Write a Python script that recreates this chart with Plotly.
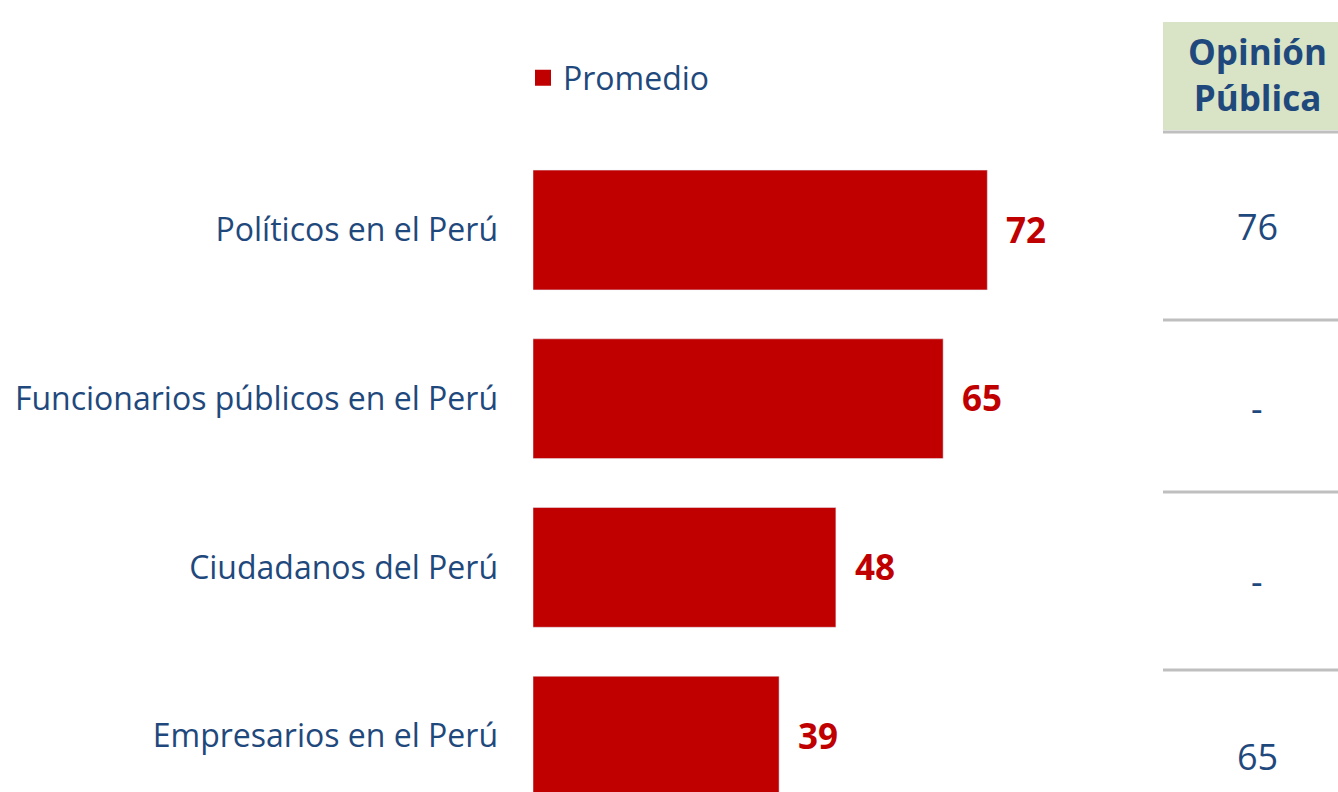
import plotly.graph_objects as go

categorias = ["Políticos en el Perú", "Funcionarios públicos en el Perú",
              "Ciudadanos del Perú", "Empresarios en el Perú"]
promedio = [72, 65, 48, 39]
opinion_publica = ["76", "-", "-", "65"]

AZUL = "#1F497D"
ROJO = "#C00000"
FUENTE = "Open Sans"

W, H = 1338, 792


def px_x(p):
    return p / W


def px_y(p):
    return 1 - p / H


fig = go.Figure()
fig.add_trace(go.Bar(
    x=promedio, y=categorias, orientation="h",
    marker_color=ROJO, width=0.71, showlegend=False,
))
# entrada de leyenda con un cuadrado mas grande
fig.add_trace(go.Scatter(
    x=[None], y=[None], mode="markers", name="Promedio",
    marker=dict(symbol="square", size=20, color=ROJO),
))

# etiquetas de valor al final de cada barra
for cat, v in zip(categorias, promedio):
    fig.add_annotation(x=v, y=cat, xref="x", yref="y", text=f"<b>{v}</b>",
                       showarrow=False, xanchor="left", yanchor="middle",
                       xshift=17, yshift=1,
                       font=dict(family=FUENTE, size=35, color=ROJO))

# columna "Opinión Pública"
fig.add_shape(type="rect", xref="paper", yref="paper",
              x0=px_x(1163), x1=1, y0=px_y(130), y1=px_y(22),
              fillcolor="#D9E4C6", line_width=0, layer="below")
fig.add_annotation(x=px_x(1257), y=px_y(74), xref="paper", yref="paper",
                   text="<b>Opinión<br>Pública</b>", showarrow=False,
                   xanchor="center", yanchor="middle",
                   font=dict(family=FUENTE, size=35, color=AZUL))
for ypx in [132, 320, 492, 670]:
    fig.add_shape(type="line", xref="paper", yref="paper",
                  x0=px_x(1163), x1=1, y0=px_y(ypx), y1=px_y(ypx),
                  line=dict(color="#BFBFBF", width=3))
for val, ypx in zip(opinion_publica, [227, 408, 581, 756]):
    fig.add_annotation(x=px_x(1257), y=px_y(ypx), xref="paper", yref="paper",
                       text=val, showarrow=False,
                       xanchor="center", yanchor="middle",
                       font=dict(family=FUENTE, size=36, color=AZUL))

fig.update_layout(
    width=W, height=H,
    margin=dict(l=0, r=0, t=0, b=0),
    plot_bgcolor="white", paper_bgcolor="white",
    font=dict(family=FUENTE, color=AZUL),
    legend=dict(x=px_x(523), y=px_y(78), xanchor="left", yanchor="middle",
                font=dict(size=32, color=AZUL), bgcolor="rgba(0,0,0,0)"),
)
fig.update_xaxes(domain=[px_x(533), px_x(1163)], range=[0, (1163-533)/6.31],
                 visible=False, showgrid=False)
fig.update_yaxes(categoryorder="array", categoryarray=categorias,
                 range=[(792-230)/168.7, -230/168.7],
                 showgrid=False, zeroline=False, showline=False, ticks="",
                 ticklabelstandoff=34,
                 tickfont=dict(family=FUENTE, size=32, color=AZUL))

# sin margen en el body para que la figura ocupe toda la ventana
fig.write_html("out.html", config={"displayModeBar": False},
               post_script="document.body.style.margin='0';")
